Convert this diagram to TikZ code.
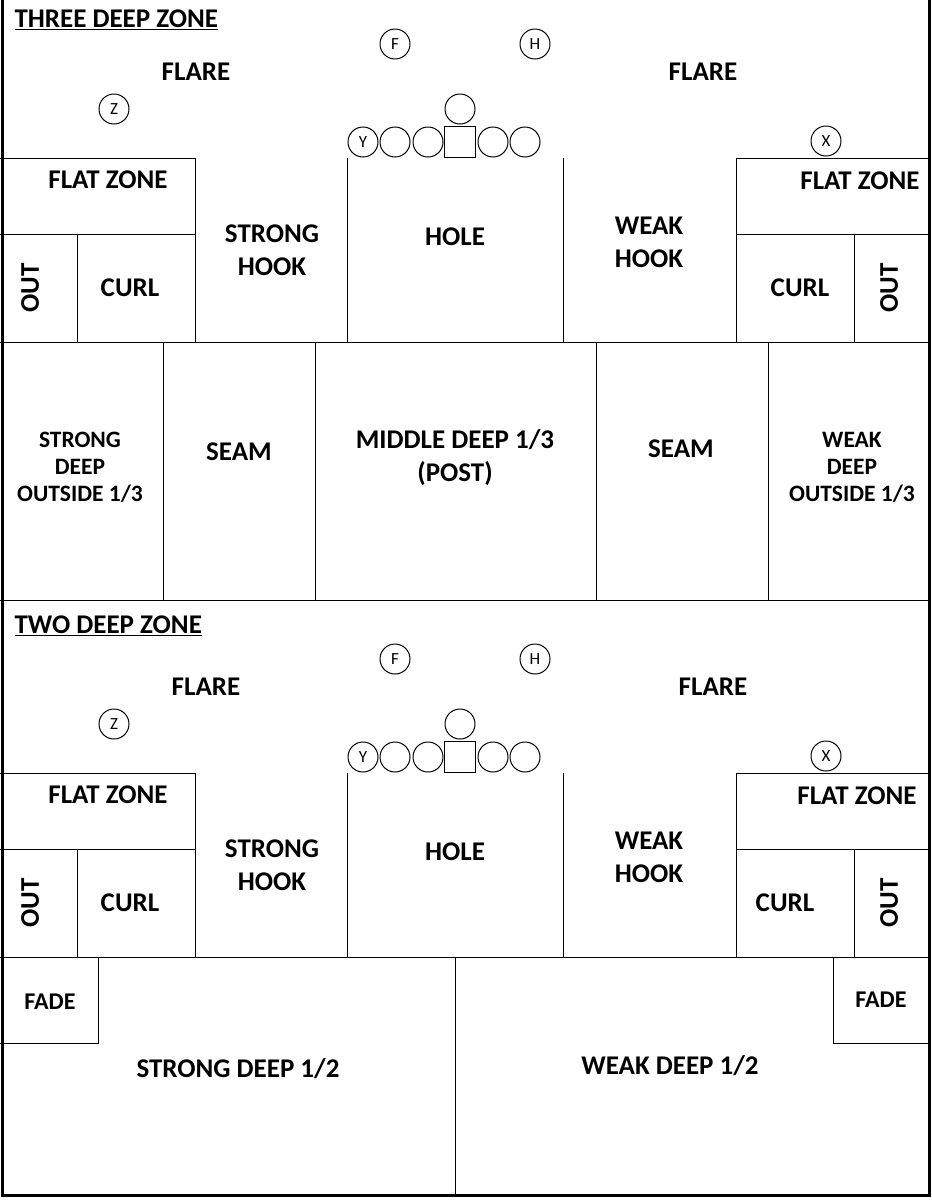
\documentclass[tikz,border=0pt]{standalone}
\usepackage{fontspec}
\setmainfont{Carlito}
\begin{document}
\begin{tikzpicture}[x=1pt,y=-1pt,line width=1pt,
  lbl/.style={font=\bfseries\fontsize{27}{33}\selectfont,align=center,inner sep=0pt},
  ttl/.style={font=\bfseries\fontsize{27}{30}\selectfont,anchor=west,inner sep=0pt},
  plr/.style={circle,draw,minimum size=30pt,inner sep=0pt,line width=1pt,font=\fontsize{17}{18}\selectfont},
  ctr/.style={rectangle,draw,minimum size=31pt,inner sep=0pt,line width=1pt}]
\useasboundingbox (0,0) rectangle (932,1200);
% outer frame
\draw[line width=3pt] (2,0) -- (2,1195) -- (929,1195) -- (929,0);
\draw (0,600) -- (929,600);
\foreach \o in {0,615}{
\begin{scope}[yshift=-\o pt]
 \node[plr] (F\o) at (395,44) {F};
 \node[plr] (H\o) at (535,44) {H};
 \node[plr] (Z\o) at (114,109) {Z};
 \node[plr] (X\o) at (826,141) {X};
 \node[plr] (Y\o) at (363,142) {Y};
 \node[plr] (g1\o) at (395,142) {};
 \node[plr] (g2\o) at (428,142) {};
 \node[ctr] (C\o) at (460,142) {};
 \node[plr] (g3\o) at (493,142) {};
 \node[plr] (g4\o) at (525,142) {};
 \node[plr] (QB\o) at (460,109) {};
 \draw (0,158) -- (195,158) -- (195,342);
 \draw (0,234) -- (195,234);
 \draw (77,234) -- (77,342);
 \draw (347,158) -- (347,342);
 \draw (563,158) -- (563,342);
 \draw (929,158) -- (736,158) -- (736,342);
 \draw (736,234) -- (929,234);
 \draw (854,234) -- (854,342);
 \node[lbl] (fz1\o) at (108,180) {FLAT ZONE};
 \node[lbl] (sh\o) at (272,250) {STRONG\\HOOK};
 \node[lbl] (ho\o) at (455,237) {HOLE};
 \node[lbl] (wh\o) at (649,242) {WEAK\\HOOK};
 \node[lbl,rotate=90] (o1\o) at (30,288) {OUT};
 \node[lbl,rotate=90] (o2\o) at (889,288) {OUT};
 \node[lbl] (c1\o) at (130,288) {CURL};
\end{scope}}
% top-specific
\node[ttl] (t1) at (14,20) {\underline{THREE DEEP ZONE}};
\node[lbl] (fl1) at (196,72) {FLARE};
\node[lbl] (fl2) at (703,72) {FLARE};
\node[lbl] (fz2) at (860,181) {FLAT ZONE};
\node[lbl] (cr1) at (800,288) {CURL};
\draw (0,342) -- (929,342);
\foreach \xx in {163,315,596,768} \draw (\xx,342) -- (\xx,600);
\node[lbl,font=\bfseries\fontsize{23.5}{27}\selectfont] (sd) at (80,467) {STRONG\\DEEP\\OUTSIDE 1/3};
\node[lbl] (se1) at (239,452) {SEAM};
\node[lbl,font=\bfseries\fontsize{27}{33}\selectfont] (md) at (455,458) {MIDDLE DEEP 1/3\\(POST)};
\node[lbl] (se2) at (681,449) {SEAM};
\node[lbl,font=\bfseries\fontsize{23.5}{27}\selectfont] (wd) at (852,467) {WEAK\\DEEP\\OUTSIDE 1/3};
% bottom-specific
\node[ttl] (t2) at (14,626) {\underline{TWO DEEP ZONE}};
\node[lbl] (fl3) at (206,687) {FLARE};
\node[lbl] (fl4) at (713,687) {FLARE};
\node[lbl] (fz3) at (857,796) {FLAT ZONE};
\node[lbl] (cr2) at (785,903) {CURL};
\draw (0,957) -- (929,957);
\draw (0,1043) -- (98,1043) -- (98,957);
\draw (929,1043) -- (833,1043) -- (833,957);
\draw (455,957) -- (455,1195);
\node[lbl,font=\bfseries\fontsize{24}{28}\selectfont] (fa1) at (50,1002) {FADE};
\node[lbl,font=\bfseries\fontsize{24}{28}\selectfont] (fa2) at (881,1000) {FADE};
\node[lbl] (s12) at (238,1069) {STRONG DEEP 1/2};
\node[lbl] (w12) at (670,1066) {WEAK DEEP 1/2};
\end{tikzpicture}
\end{document}
